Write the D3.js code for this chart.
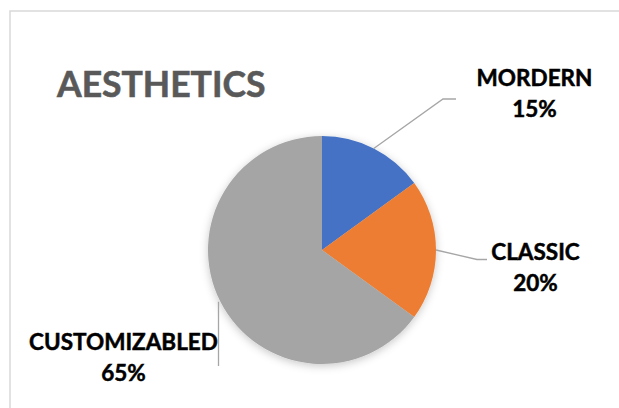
<!DOCTYPE html>
<html>
<head>
<meta charset="utf-8">
<script src="https://cdn.jsdelivr.net/npm/d3@7"></script>
<style>
  html, body { margin: 0; padding: 0; background: #fff; }
  .chart text { font-family: Lato, 'Open Sans', sans-serif; font-weight: bold; }
</style>
</head>
<body>
<div class="chart"></div>
<script>
'use strict'
var categories = ['MORDERN', 'CLASSIC', 'CUSTOMIZABLED']
var values = [15, 20, 65]
var colors = ['#4472C4', '#ED7D31', '#A5A5A5']
var title = 'AESTHETICS'

var width = 619
var height = 408
var cx = 322
var cy = 250
var radius = 114

// where each label block sits, and the elbow of its leader line
var labelLayout = [
  { x: 534.5, y: 86, elbow: [443, 99], end: [456, 99] },
  { x: 535.5, y: 260, elbow: [477, 259.5], end: [487, 259.5] },
  { x: 123.5, y: 350, elbow: null, end: [218.5, 366] }
]

var svg = d3.select('.chart').append('svg')
  .attr('width', width)
  .attr('height', height)

var defs = svg.append('defs')
var shadow = defs.append('filter')
  .attr('id', 'shadow')
  .attr('x', '-20%').attr('y', '-20%')
  .attr('width', '140%').attr('height', '140%')
shadow.append('feDropShadow')
  .attr('dx', 0).attr('dy', 2)
  .attr('stdDeviation', 4)
  .attr('flood-color', '#000')
  .attr('flood-opacity', 0.22)

// chart area border
svg.append('rect')
  .attr('x', 10)
  .attr('y', 11)
  .attr('width', width + 10)
  .attr('height', height + 10)
  .attr('fill', '#fff')
  .attr('stroke', '#d9d9d9')
  .attr('stroke-width', 1.5)

svg.append('text')
  .attr('x', 57)
  .attr('y', 96.5)
  .attr('fill', '#595959')
  .attr('stroke', '#595959')
  .attr('stroke-width', 0.6)
  .style('font-size', '35.5px')
  .text(title)

var slices = d3.pie().sort(null)(values)
var arc = d3.arc().innerRadius(0).outerRadius(radius)
var edge = d3.arc().innerRadius(radius).outerRadius(radius)

var g = svg.append('g')
  .attr('transform', 'translate(' + cx + ',' + cy + ')')

g.append('g')
  .attr('filter', 'url(#shadow)')
  .selectAll('path')
  .data(slices)
  .enter().append('path')
  .attr('d', arc)
  .attr('fill', function (d, i) { return colors[i] })

// leader lines
svg.append('g').selectAll('polyline')
  .data(slices)
  .enter().append('polyline')
  .attr('fill', 'none')
  .attr('stroke', '#a6a6a6')
  .attr('stroke-width', 1.3)
  .attr('points', function (d, i) {
    var c = edge.centroid(d)
    var start = [cx + c[0], cy + c[1]]
    var l = labelLayout[i]
    if (!l.elbow) {
      return [[l.end[0], start[1]], l.end].join(' ')
    }
    return [start, l.elbow, l.end].join(' ')
  })

var labels = svg.append('g').selectAll('text')
  .data(slices)
  .enter().append('text')
  .attr('text-anchor', 'middle')
  .attr('fill', '#000')
  .attr('stroke', '#000')
  .attr('stroke-width', 0.5)
  .style('font-size', '22.5px')

labels.append('tspan')
  .attr('x', function (d, i) { return labelLayout[i].x })
  .attr('y', function (d, i) { return labelLayout[i].y })
  .text(function (d, i) { return categories[i] })

labels.append('tspan')
  .attr('x', function (d, i) { return labelLayout[i].x })
  .attr('dy', 31)
  .text(function (d) { return d.value + '%' })
</script>
</body>
</html>
